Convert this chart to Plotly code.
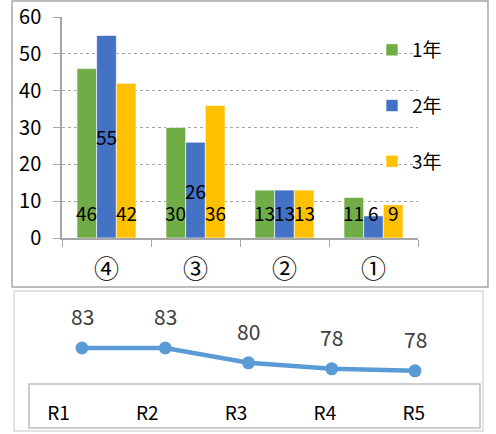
import plotly.graph_objects as go

# ---- data ----
categories = ["④", "③", "②", "①"]
year1 = [46, 30, 13, 11]
year2 = [55, 26, 13, 6]
year3 = [42, 36, 13, 9]
series_names = ["1年", "2年", "3年"]
series_colors = ["#70AD47", "#4472C4", "#FFC000"]

rounds = ["R1", "R2", "R3", "R4", "R5"]
round_values = [83.4, 83.4, 79.7, 78.2, 77.7]

W, H = 496, 434
FONT = "Noto Sans CJK JP"

def px_x(p):
    return p / W

def px_y(p):
    return (H - p) / H

fig = go.Figure()

series = [year1, year2, year3]
for name, vals, col in zip(series_names, series, series_colors):
    fig.add_trace(go.Bar(
        x=categories, y=vals, name=name, legendgroup=name,
        marker=dict(color=col, line=dict(color="white", width=0.6)),
        xaxis="x", yaxis="y", hoverinfo="skip",
    ))

bargap = 0.337
bw = (1 - bargap) / 3
annotations = []
base_label = 6.8
for k, vals in enumerate(series):
    for i, v in enumerate(vals):
        ly = max(v / 2, base_label) if k == 1 else base_label
        annotations.append(dict(
            x=i + (k - 1) * bw, y=ly, xref="x", yref="y", text=str(v),
            showarrow=False, font=dict(family=FONT, size=19, color="#000000"),
        ))

# line chart
fig.add_trace(go.Scatter(
    x=rounds, y=round_values, mode="lines+markers",
    line=dict(color="#5B9BD5", width=4.5),
    marker=dict(color="#5B9BD5", size=13),
    xaxis="x2", yaxis="y2", showlegend=False, hoverinfo="skip", cliponaxis=False,
))
# invisible carrier for the round label axis
fig.add_trace(go.Scatter(
    x=rounds, y=round_values, mode="markers", marker=dict(opacity=0),
    xaxis="x3", yaxis="y2", showlegend=False, hoverinfo="skip",
))
for r, v in zip(rounds, round_values):
    annotations.append(dict(
        x=r, y=v, xref="x2", yref="y2", text=f"{v:.0f}", showarrow=False,
        yshift=32, font=dict(family=FONT, size=21, color="#404040"),
    ))

# pixel geometry for line chart
pt0, pstep = 82, 83.25
lb0, lbstep = 58.5, 88.8
ppu = 4.0
top_val_px = 348
y2_bot, y2_top = 384, 291
y2_range = [round_values[0] - (y2_bot - top_val_px) / ppu,
            round_values[0] + (top_val_px - y2_top) / ppu]

gray = "#A6A6A6"
fig.update_layout(
    width=W, height=H, margin=dict(l=0, r=0, t=0, b=0, autoexpand=False),
    paper_bgcolor="white", plot_bgcolor="white",
    font=dict(family=FONT, size=20, color="#000000"),
    barmode="group", bargap=bargap, bargroupgap=0,
    xaxis=dict(
        domain=[px_x(62), px_x(418)], anchor="y", type="category",
        tickson="boundaries", ticks="outside", ticklen=7, tickcolor=gray,
        showline=True, linecolor=gray, linewidth=1.5, showgrid=False,
        tickfont=dict(family=FONT, size=25, color="#000000"),
        ticklabelstandoff=8, automargin=False,
    ),
    yaxis=dict(
        domain=[px_y(238), px_y(17)], anchor="x", range=[0, 60], dtick=10,
        showgrid=True, gridcolor=gray, griddash="dot", gridwidth=1,
        showline=True, linecolor=gray, linewidth=1.5, ticks="outside",
        ticklen=7, tickcolor=gray, zeroline=False,
        tickfont=dict(family=FONT, size=20, color="#000000"),
        ticklabelstandoff=8, automargin=False,
    ),
    xaxis2=dict(
        domain=[0, 1], anchor="y2", type="category",
        range=[-pt0 / pstep, (W - pt0) / pstep], visible=False,
        automargin=False,
    ),
    xaxis3=dict(
        domain=[0, 1], anchor="y2", overlaying="x2", type="category",
        range=[-lb0 / lbstep, (W - lb0) / lbstep], showline=False,
        showgrid=False, ticks="", ticklabelstandoff=16, automargin=False,
        tickfont=dict(family=FONT, size=19, color="#000000"),
    ),
    yaxis2=dict(
        domain=[px_y(y2_bot), px_y(y2_top)], anchor="x2", range=y2_range,
        visible=False, automargin=False,
    ),
    legend=dict(
        x=px_x(372), y=px_y(31), xanchor="left", yanchor="top",
        orientation="v", tracegroupgap=28, bgcolor="rgba(0,0,0,0)",
        font=dict(family=FONT, size=19, color="#000000"),
    ),
    annotations=annotations,
    shapes=[
        dict(type="rect", xref="paper", yref="paper",
             x0=px_x(12), x1=px_x(488), y0=px_y(287), y1=px_y(1),
             line=dict(color=gray, width=1.5)),
        dict(type="rect", xref="paper", yref="paper",
             x0=px_x(14), x1=px_x(483), y0=px_y(431), y1=px_y(291),
             line=dict(color="#D9D9D9", width=1.5)),
        dict(type="rect", xref="paper", yref="paper",
             x0=px_x(29), x1=px_x(480), y0=px_y(428), y1=px_y(384),
             line=dict(color="#BFBFBF", width=1.5)),
    ],
)

fig.write_html(
    "out.html",
    config={"displayModeBar": False},
    post_script="document.body.style.margin='0';document.body.style.overflow='hidden';",
)
